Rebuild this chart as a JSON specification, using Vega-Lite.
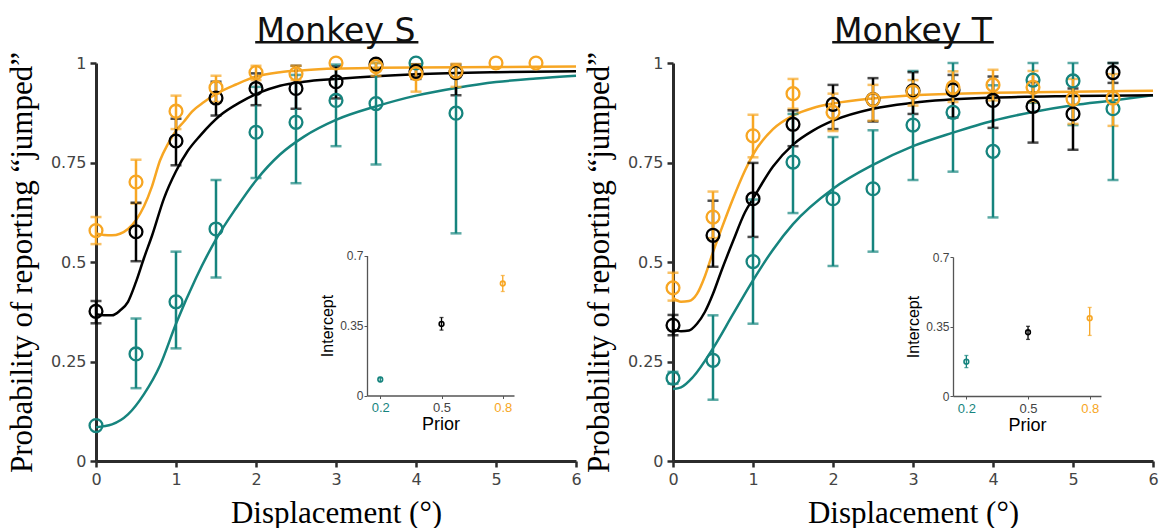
{
  "$schema": "https://vega.github.io/schema/vega-lite/v6.json",
  "background": "white",
  "padding": {"left": 6, "top": 16, "right": 4, "bottom": 0},
  "spacing": 1,
  "config": {"view": {"stroke": null}, "axis": {"grid": false}},
  "datasets": {
    "ptsS": [
      {"prior": "0.2", "x": 0, "y": 0.089, "lo": null, "hi": null},
      {"prior": "0.2", "x": 0.5, "y": 0.269, "lo": 0.183, "hi": 0.358},
      {"prior": "0.2", "x": 1, "y": 0.40, "lo": 0.283, "hi": 0.526},
      {"prior": "0.2", "x": 1.5, "y": 0.583, "lo": 0.461, "hi": 0.706},
      {"prior": "0.2", "x": 2, "y": 0.826, "lo": 0.711, "hi": 0.94},
      {"prior": "0.2", "x": 2.5, "y": 0.851, "lo": 0.698, "hi": 0.97},
      {"prior": "0.2", "x": 3, "y": 0.906, "lo": 0.791, "hi": 0.996},
      {"prior": "0.2", "x": 3.5, "y": 0.898, "lo": 0.745, "hi": 1.0},
      {"prior": "0.2", "x": 4, "y": 1.0, "lo": null, "hi": null},
      {"prior": "0.2", "x": 4.5, "y": 0.874, "lo": 0.572, "hi": 0.99},
      {"prior": "0.5", "x": 0, "y": 0.376, "lo": 0.346, "hi": 0.402},
      {"prior": "0.5", "x": 0.5, "y": 0.576, "lo": 0.502, "hi": 0.649},
      {"prior": "0.5", "x": 1, "y": 0.804, "lo": 0.743, "hi": 0.86},
      {"prior": "0.5", "x": 1.5, "y": 0.912, "lo": 0.868, "hi": 0.953},
      {"prior": "0.5", "x": 2, "y": 0.936, "lo": 0.894, "hi": 0.974},
      {"prior": "0.5", "x": 2.5, "y": 0.936, "lo": 0.885, "hi": 0.993},
      {"prior": "0.5", "x": 3, "y": 0.953, "lo": 0.911, "hi": 0.991},
      {"prior": "0.5", "x": 3.5, "y": 0.997, "lo": null, "hi": null},
      {"prior": "0.5", "x": 4, "y": 0.979, "lo": 0.96, "hi": 0.997},
      {"prior": "0.5", "x": 4.5, "y": 0.976, "lo": 0.919, "hi": 0.996},
      {"prior": "0.8", "x": 0, "y": 0.579, "lo": 0.545, "hi": 0.613},
      {"prior": "0.8", "x": 0.5, "y": 0.701, "lo": 0.647, "hi": 0.757},
      {"prior": "0.8", "x": 1, "y": 0.879, "lo": 0.834, "hi": 0.918},
      {"prior": "0.8", "x": 1.5, "y": 0.938, "lo": 0.902, "hi": 0.968},
      {"prior": "0.8", "x": 2, "y": 0.976, "lo": 0.957, "hi": 0.993},
      {"prior": "0.8", "x": 2.5, "y": 0.973, "lo": 0.957, "hi": 0.993},
      {"prior": "0.8", "x": 3, "y": 1.0, "lo": null, "hi": null},
      {"prior": "0.8", "x": 3.5, "y": 0.991, "lo": 0.968, "hi": 1.0},
      {"prior": "0.8", "x": 4, "y": 0.973, "lo": 0.928, "hi": 0.996},
      {"prior": "0.8", "x": 4.5, "y": 0.979, "lo": 0.94, "hi": 0.998},
      {"prior": "0.8", "x": 5, "y": 1.0, "lo": null, "hi": null},
      {"prior": "0.8", "x": 5.5, "y": 1.0, "lo": null, "hi": null}
    ],
    "curveS": [
      {"prior": "0.2", "x": 0, "y": 0.085}, {"prior": "0.2", "x": 0.2, "y": 0.092}, {"prior": "0.2", "x": 0.4, "y": 0.117},
      {"prior": "0.2", "x": 0.6, "y": 0.168}, {"prior": "0.2", "x": 0.8, "y": 0.24}, {"prior": "0.2", "x": 1, "y": 0.345},
      {"prior": "0.2", "x": 1.25, "y": 0.46}, {"prior": "0.2", "x": 1.5, "y": 0.557}, {"prior": "0.2", "x": 1.75, "y": 0.635},
      {"prior": "0.2", "x": 2, "y": 0.705}, {"prior": "0.2", "x": 2.3, "y": 0.77}, {"prior": "0.2", "x": 2.6, "y": 0.815},
      {"prior": "0.2", "x": 3, "y": 0.857}, {"prior": "0.2", "x": 3.5, "y": 0.891}, {"prior": "0.2", "x": 4, "y": 0.918},
      {"prior": "0.2", "x": 4.5, "y": 0.937}, {"prior": "0.2", "x": 5, "y": 0.952}, {"prior": "0.2", "x": 5.5, "y": 0.961},
      {"prior": "0.2", "x": 6, "y": 0.968},
      {"prior": "0.5", "x": 0, "y": 0.369}, {"prior": "0.5", "x": 0.1, "y": 0.366}, {"prior": "0.5", "x": 0.2, "y": 0.366},
      {"prior": "0.5", "x": 0.3, "y": 0.378}, {"prior": "0.5", "x": 0.4, "y": 0.40}, {"prior": "0.5", "x": 0.5, "y": 0.45},
      {"prior": "0.5", "x": 0.6, "y": 0.51}, {"prior": "0.5", "x": 0.7, "y": 0.566}, {"prior": "0.5", "x": 0.85, "y": 0.66},
      {"prior": "0.5", "x": 1, "y": 0.728}, {"prior": "0.5", "x": 1.15, "y": 0.78}, {"prior": "0.5", "x": 1.3, "y": 0.817},
      {"prior": "0.5", "x": 1.55, "y": 0.868}, {"prior": "0.5", "x": 1.8, "y": 0.901}, {"prior": "0.5", "x": 2.05, "y": 0.926},
      {"prior": "0.5", "x": 2.3, "y": 0.943}, {"prior": "0.5", "x": 2.6, "y": 0.953}, {"prior": "0.5", "x": 3, "y": 0.96},
      {"prior": "0.5", "x": 3.5, "y": 0.967}, {"prior": "0.5", "x": 4, "y": 0.972}, {"prior": "0.5", "x": 5, "y": 0.977},
      {"prior": "0.5", "x": 6, "y": 0.979},
      {"prior": "0.8", "x": 0, "y": 0.572}, {"prior": "0.8", "x": 0.1, "y": 0.568}, {"prior": "0.8", "x": 0.2, "y": 0.567},
      {"prior": "0.8", "x": 0.3, "y": 0.571}, {"prior": "0.8", "x": 0.4, "y": 0.583}, {"prior": "0.8", "x": 0.5, "y": 0.605},
      {"prior": "0.8", "x": 0.6, "y": 0.64}, {"prior": "0.8", "x": 0.7, "y": 0.69}, {"prior": "0.8", "x": 0.8, "y": 0.755},
      {"prior": "0.8", "x": 0.9, "y": 0.797}, {"prior": "0.8", "x": 1, "y": 0.83}, {"prior": "0.8", "x": 1.1, "y": 0.853},
      {"prior": "0.8", "x": 1.2, "y": 0.878}, {"prior": "0.8", "x": 1.35, "y": 0.902}, {"prior": "0.8", "x": 1.5, "y": 0.922},
      {"prior": "0.8", "x": 1.75, "y": 0.946}, {"prior": "0.8", "x": 2, "y": 0.966}, {"prior": "0.8", "x": 2.3, "y": 0.977},
      {"prior": "0.8", "x": 2.6, "y": 0.982}, {"prior": "0.8", "x": 3, "y": 0.986}, {"prior": "0.8", "x": 3.5, "y": 0.988},
      {"prior": "0.8", "x": 4, "y": 0.989}, {"prior": "0.8", "x": 5, "y": 0.99}, {"prior": "0.8", "x": 6, "y": 0.991}
    ],
    "insetS": [
      {"prior": "0.2", "p": 0.2, "y": 0.08, "lo": 0.07, "hi": 0.09},
      {"prior": "0.5", "p": 0.5, "y": 0.358, "lo": 0.327, "hi": 0.39},
      {"prior": "0.8", "p": 0.8, "y": 0.56, "lo": 0.52, "hi": 0.6}
    ],
    "ptsT": [
      {"prior": "0.2", "x": 0, "y": 0.208, "lo": 0.194, "hi": 0.224},
      {"prior": "0.2", "x": 0.5, "y": 0.253, "lo": 0.154, "hi": 0.366},
      {"prior": "0.2", "x": 1, "y": 0.501, "lo": 0.345, "hi": 0.657},
      {"prior": "0.2", "x": 1.5, "y": 0.751, "lo": 0.623, "hi": 0.872},
      {"prior": "0.2", "x": 2, "y": 0.659, "lo": 0.49, "hi": 0.814},
      {"prior": "0.2", "x": 2.5, "y": 0.684, "lo": 0.526, "hi": 0.831},
      {"prior": "0.2", "x": 3, "y": 0.844, "lo": 0.706, "hi": 0.98},
      {"prior": "0.2", "x": 3.5, "y": 0.876, "lo": 0.727, "hi": 1.0},
      {"prior": "0.2", "x": 4, "y": 0.778, "lo": 0.612, "hi": 0.944},
      {"prior": "0.2", "x": 4.5, "y": 0.957, "lo": 0.9, "hi": 1.0},
      {"prior": "0.2", "x": 5, "y": 0.955, "lo": 0.844, "hi": 1.0},
      {"prior": "0.2", "x": 5.5, "y": 0.885, "lo": 0.706, "hi": 1.0},
      {"prior": "0.5", "x": 0, "y": 0.341, "lo": 0.316, "hi": 0.367},
      {"prior": "0.5", "x": 0.5, "y": 0.567, "lo": 0.488, "hi": 0.654},
      {"prior": "0.5", "x": 1, "y": 0.659, "lo": 0.563, "hi": 0.749},
      {"prior": "0.5", "x": 1.5, "y": 0.846, "lo": 0.791, "hi": 0.881},
      {"prior": "0.5", "x": 2, "y": 0.896, "lo": 0.834, "hi": 0.945},
      {"prior": "0.5", "x": 2.5, "y": 0.908, "lo": 0.853, "hi": 0.962},
      {"prior": "0.5", "x": 3, "y": 0.93, "lo": 0.872, "hi": 0.977},
      {"prior": "0.5", "x": 3.5, "y": 0.932, "lo": 0.863, "hi": 0.97},
      {"prior": "0.5", "x": 4, "y": 0.906, "lo": 0.837, "hi": 0.966},
      {"prior": "0.5", "x": 4.5, "y": 0.891, "lo": 0.8, "hi": 0.952},
      {"prior": "0.5", "x": 5, "y": 0.872, "lo": 0.782, "hi": 0.936},
      {"prior": "0.5", "x": 5.5, "y": 0.976, "lo": 0.95, "hi": 1.0},
      {"prior": "0.8", "x": 0, "y": 0.435, "lo": 0.403, "hi": 0.473},
      {"prior": "0.8", "x": 0.5, "y": 0.613, "lo": 0.56, "hi": 0.677},
      {"prior": "0.8", "x": 1, "y": 0.817, "lo": 0.763, "hi": 0.87},
      {"prior": "0.8", "x": 1.5, "y": 0.923, "lo": 0.885, "hi": 0.96},
      {"prior": "0.8", "x": 2, "y": 0.876, "lo": 0.829, "hi": 0.923},
      {"prior": "0.8", "x": 2.5, "y": 0.908, "lo": 0.855, "hi": 0.945},
      {"prior": "0.8", "x": 3, "y": 0.927, "lo": 0.893, "hi": 0.957},
      {"prior": "0.8", "x": 3.5, "y": 0.939, "lo": 0.902, "hi": 0.979},
      {"prior": "0.8", "x": 4, "y": 0.945, "lo": 0.906, "hi": 0.983},
      {"prior": "0.8", "x": 4.5, "y": 0.939, "lo": 0.902, "hi": 0.98},
      {"prior": "0.8", "x": 5, "y": 0.91, "lo": 0.847, "hi": 0.96},
      {"prior": "0.8", "x": 5.5, "y": 0.912, "lo": 0.842, "hi": 0.972}
    ],
    "curveT": [
      {"prior": "0.2", "x": 0, "y": 0.181}, {"prior": "0.2", "x": 0.1, "y": 0.185}, {"prior": "0.2", "x": 0.25, "y": 0.211},
      {"prior": "0.2", "x": 0.5, "y": 0.283}, {"prior": "0.2", "x": 0.75, "y": 0.369}, {"prior": "0.2", "x": 1, "y": 0.454},
      {"prior": "0.2", "x": 1.25, "y": 0.531}, {"prior": "0.2", "x": 1.5, "y": 0.595}, {"prior": "0.2", "x": 2, "y": 0.684},
      {"prior": "0.2", "x": 2.5, "y": 0.744}, {"prior": "0.2", "x": 3, "y": 0.791}, {"prior": "0.2", "x": 3.5, "y": 0.825},
      {"prior": "0.2", "x": 4, "y": 0.855}, {"prior": "0.2", "x": 4.5, "y": 0.877}, {"prior": "0.2", "x": 5, "y": 0.894},
      {"prior": "0.2", "x": 5.5, "y": 0.906}, {"prior": "0.2", "x": 6, "y": 0.919},
      {"prior": "0.5", "x": 0, "y": 0.33}, {"prior": "0.5", "x": 0.1, "y": 0.326}, {"prior": "0.5", "x": 0.2, "y": 0.328},
      {"prior": "0.5", "x": 0.3, "y": 0.345}, {"prior": "0.5", "x": 0.4, "y": 0.375}, {"prior": "0.5", "x": 0.5, "y": 0.42},
      {"prior": "0.5", "x": 0.6, "y": 0.475}, {"prior": "0.5", "x": 0.75, "y": 0.552}, {"prior": "0.5", "x": 0.9, "y": 0.625},
      {"prior": "0.5", "x": 1, "y": 0.659}, {"prior": "0.5", "x": 1.25, "y": 0.74}, {"prior": "0.5", "x": 1.5, "y": 0.795},
      {"prior": "0.5", "x": 1.75, "y": 0.83}, {"prior": "0.5", "x": 2, "y": 0.855}, {"prior": "0.5", "x": 2.5, "y": 0.885},
      {"prior": "0.5", "x": 3, "y": 0.9}, {"prior": "0.5", "x": 4, "y": 0.913}, {"prior": "0.5", "x": 5, "y": 0.917},
      {"prior": "0.5", "x": 6, "y": 0.919},
      {"prior": "0.8", "x": 0, "y": 0.41}, {"prior": "0.8", "x": 0.1, "y": 0.40}, {"prior": "0.8", "x": 0.2, "y": 0.402},
      {"prior": "0.8", "x": 0.3, "y": 0.42}, {"prior": "0.8", "x": 0.4, "y": 0.465}, {"prior": "0.8", "x": 0.5, "y": 0.525},
      {"prior": "0.8", "x": 0.6, "y": 0.58}, {"prior": "0.8", "x": 0.75, "y": 0.659}, {"prior": "0.8", "x": 0.9, "y": 0.73},
      {"prior": "0.8", "x": 1, "y": 0.77}, {"prior": "0.8", "x": 1.25, "y": 0.834}, {"prior": "0.8", "x": 1.5, "y": 0.868},
      {"prior": "0.8", "x": 1.75, "y": 0.887}, {"prior": "0.8", "x": 2, "y": 0.898}, {"prior": "0.8", "x": 2.5, "y": 0.911},
      {"prior": "0.8", "x": 3, "y": 0.919}, {"prior": "0.8", "x": 4, "y": 0.925}, {"prior": "0.8", "x": 5, "y": 0.928},
      {"prior": "0.8", "x": 6, "y": 0.93}
    ],
    "insetT": [
      {"prior": "0.2", "p": 0.2, "y": 0.173, "lo": 0.143, "hi": 0.204},
      {"prior": "0.5", "p": 0.5, "y": 0.321, "lo": 0.285, "hi": 0.351},
      {"prior": "0.8", "p": 0.8, "y": 0.392, "lo": 0.305, "hi": 0.446}
    ]
  },
  "hconcat": [
    {
      "title": {"text": "Monkey S", "font": "DejaVu Sans", "fontSize": 33, "fontWeight": "normal", "color": "#111", "frame": "group", "anchor": "middle", "offset": -8},
      "width": 480,
      "height": 398,
      "resolve": {"scale": {"x": "independent", "y": "independent"}},
      "layer": [
        {
          "layer": [
            {
              "data": {"name": "curveS"},
              "mark": {"type": "line", "strokeWidth": 2.5, "interpolate": "monotone"},
              "encoding": {
                "x": {"field": "x", "type": "quantitative", "scale": {"domain": [0, 6], "nice": false}, "axis": {"values": [0, 1, 2, 3, 4, 5, 6], "labelExpr": "toString(datum.value)", "labelFlush": false, "title": "Displacement (°)", "domainColor": "#2b2b2b", "domainWidth": 3, "tickColor": "#2b2b2b", "tickWidth": 2.5, "tickSize": 6, "labelFont": "DejaVu Sans", "labelFontSize": 16, "labelColor": "#444", "labelPadding": 4, "titleFont": "Liberation Serif", "titleFontSize": 31, "titleFontWeight": "normal", "titleColor": "#000", "titleBaseline": "alphabetic", "titleY": 61}},
                "y": {"field": "y", "type": "quantitative", "scale": {"domain": [0, 1], "nice": false, "zero": false}, "axis": {"values": [0, 0.25, 0.5, 0.75, 1], "labelExpr": "toString(datum.value)", "labelFlush": false, "title": "Probability of reporting “jumped”", "domainColor": "#2b2b2b", "domainWidth": 3, "tickColor": "#2b2b2b", "tickWidth": 2.5, "tickSize": 6, "labelFont": "DejaVu Sans", "labelFontSize": 16, "labelColor": "#444", "labelPadding": 4, "titleFont": "Liberation Serif", "titleFontSize": 31, "titleFontWeight": "normal", "titleColor": "#000", "titleBaseline": "alphabetic", "titleX": -64.5}},
                "color": {"field": "prior", "type": "nominal", "scale": {"domain": ["0.2", "0.5", "0.8"], "range": ["#16847E", "#000000", "#F7A623"]}, "legend": null}
              }
            },
            {
              "data": {"name": "ptsS"},
              "transform": [{"filter": "datum.lo != null"}],
              "mark": {"type": "errorbar", "thickness": 2.5, "ticks": {"size": 11, "thickness": 2.5}},
              "encoding": {
                "x": {"field": "x", "type": "quantitative", "scale": {"domain": [0, 6], "nice": false}, "axis": {"values": [0, 1, 2, 3, 4, 5, 6], "labelExpr": "toString(datum.value)", "labelFlush": false, "title": "Displacement (°)", "domainColor": "#2b2b2b", "domainWidth": 3, "tickColor": "#2b2b2b", "tickWidth": 2.5, "tickSize": 6, "labelFont": "DejaVu Sans", "labelFontSize": 16, "labelColor": "#444", "labelPadding": 4, "titleFont": "Liberation Serif", "titleFontSize": 31, "titleFontWeight": "normal", "titleColor": "#000", "titleBaseline": "alphabetic", "titleY": 61}},
                "y": {"field": "lo", "type": "quantitative", "scale": {"domain": [0, 1], "nice": false, "zero": false}, "axis": {"values": [0, 0.25, 0.5, 0.75, 1], "labelExpr": "toString(datum.value)", "labelFlush": false, "title": "Probability of reporting “jumped”", "domainColor": "#2b2b2b", "domainWidth": 3, "tickColor": "#2b2b2b", "tickWidth": 2.5, "tickSize": 6, "labelFont": "DejaVu Sans", "labelFontSize": 16, "labelColor": "#444", "labelPadding": 4, "titleFont": "Liberation Serif", "titleFontSize": 31, "titleFontWeight": "normal", "titleColor": "#000", "titleBaseline": "alphabetic", "titleX": -64.5}},
                "y2": {"field": "hi"},
                "color": {"field": "prior", "type": "nominal", "legend": null}
              }
            },
            {
              "data": {"name": "ptsS"},
              "mark": {"type": "point", "filled": false, "size": 165, "strokeWidth": 2.3, "opacity": 1},
              "encoding": {
                "x": {"field": "x", "type": "quantitative", "scale": {"domain": [0, 6], "nice": false}, "axis": {"values": [0, 1, 2, 3, 4, 5, 6], "labelExpr": "toString(datum.value)", "labelFlush": false, "title": "Displacement (°)", "domainColor": "#2b2b2b", "domainWidth": 3, "tickColor": "#2b2b2b", "tickWidth": 2.5, "tickSize": 6, "labelFont": "DejaVu Sans", "labelFontSize": 16, "labelColor": "#444", "labelPadding": 4, "titleFont": "Liberation Serif", "titleFontSize": 31, "titleFontWeight": "normal", "titleColor": "#000", "titleBaseline": "alphabetic", "titleY": 61}},
                "y": {"field": "y", "type": "quantitative", "scale": {"domain": [0, 1], "nice": false, "zero": false}, "axis": {"values": [0, 0.25, 0.5, 0.75, 1], "labelExpr": "toString(datum.value)", "labelFlush": false, "title": "Probability of reporting “jumped”", "domainColor": "#2b2b2b", "domainWidth": 3, "tickColor": "#2b2b2b", "tickWidth": 2.5, "tickSize": 6, "labelFont": "DejaVu Sans", "labelFontSize": 16, "labelColor": "#444", "labelPadding": 4, "titleFont": "Liberation Serif", "titleFontSize": 31, "titleFontWeight": "normal", "titleColor": "#000", "titleBaseline": "alphabetic", "titleX": -64.5}},
                "color": {"field": "prior", "type": "nominal", "legend": null}
              }
            },
            {
              "data": {"values": [{}]},
              "mark": {"type": "rule", "clip": false, "strokeWidth": 2.5, "color": "#111"},
              "encoding": {"x": {"datum": 1.99}, "x2": {"datum": 4.03}, "y": {"datum": 1.052}}
            }
          ]
        },
        {
          "data": {"name": "insetS"},
          "layer": [
            {
              "mark": {"type": "errorbar", "thickness": 1.3, "ticks": {"size": 4, "thickness": 1.3}},
              "encoding": {
                "x": {"field": "p", "type": "quantitative", "scale": {"domain": [0.135, 0.855], "range": [271, 418], "nice": false, "zero": false}, "axis": {"orient": "bottom", "offset": -65.5, "values": [0.2, 0.5, 0.8], "labelExpr": "toString(datum.value)", "labelFlush": false, "title": "Prior", "domainColor": "#555", "domainWidth": 1.3, "tickColor": "#555", "tickWidth": 1, "tickSize": 3, "labelFont": "Liberation Sans", "labelFontSize": 13, "labelPadding": 3, "labelColor": {"condition": [{"test": "datum.value < 0.3", "value": "#16847E"}, {"test": "datum.value > 0.7", "value": "#F7A623"}], "value": "#444"}, "titleFont": "Liberation Sans", "titleFontSize": 18, "titleFontWeight": "normal", "titleColor": "#000", "titlePadding": 1}},
                "y": {"field": "lo", "type": "quantitative", "scale": {"domain": [0, 0.7], "range": [332.5, 192.5], "nice": false}, "axis": {"orient": "left", "offset": -271, "values": [0, 0.35, 0.7], "labelExpr": "toString(datum.value)", "labelFlush": false, "title": "Intercept", "domainColor": "#555", "domainWidth": 1.3, "tickColor": "#555", "tickWidth": 1, "tickSize": 3, "labelFont": "Liberation Sans", "labelFontSize": 12, "labelColor": "#444", "labelPadding": 1, "titleFont": "Liberation Sans", "titleFontSize": 16, "titleFontWeight": "normal", "titleColor": "#000", "titlePadding": 4}},
                "y2": {"field": "hi"},
                "color": {"field": "prior", "type": "nominal", "legend": null}
              }
            },
            {
              "mark": {"type": "point", "filled": false, "size": 22, "strokeWidth": 1.6, "opacity": 1},
              "encoding": {
                "x": {"field": "p", "type": "quantitative"},
                "y": {"field": "y", "type": "quantitative"},
                "color": {"field": "prior", "type": "nominal", "legend": null}
              }
            }
          ]
        }
      ]
    },
    {
      "title": {"text": "Monkey T", "font": "DejaVu Sans", "fontSize": 33, "fontWeight": "normal", "color": "#111", "frame": "group", "anchor": "middle", "offset": -8},
      "width": 480,
      "height": 398,
      "resolve": {"scale": {"x": "independent", "y": "independent"}},
      "layer": [
        {
          "layer": [
            {
              "data": {"name": "curveT"},
              "mark": {"type": "line", "strokeWidth": 2.5, "interpolate": "monotone"},
              "encoding": {
                "x": {"field": "x", "type": "quantitative", "scale": {"domain": [0, 6], "nice": false}, "axis": {"values": [0, 1, 2, 3, 4, 5, 6], "labelExpr": "toString(datum.value)", "labelFlush": false, "title": "Displacement (°)", "domainColor": "#2b2b2b", "domainWidth": 3, "tickColor": "#2b2b2b", "tickWidth": 2.5, "tickSize": 6, "labelFont": "DejaVu Sans", "labelFontSize": 16, "labelColor": "#444", "labelPadding": 4, "titleFont": "Liberation Serif", "titleFontSize": 31, "titleFontWeight": "normal", "titleColor": "#000", "titleBaseline": "alphabetic", "titleY": 61}},
                "y": {"field": "y", "type": "quantitative", "scale": {"domain": [0, 1], "nice": false, "zero": false}, "axis": {"values": [0, 0.25, 0.5, 0.75, 1], "labelExpr": "toString(datum.value)", "labelFlush": false, "title": "Probability of reporting “jumped”", "domainColor": "#2b2b2b", "domainWidth": 3, "tickColor": "#2b2b2b", "tickWidth": 2.5, "tickSize": 6, "labelFont": "DejaVu Sans", "labelFontSize": 16, "labelColor": "#444", "labelPadding": 4, "titleFont": "Liberation Serif", "titleFontSize": 31, "titleFontWeight": "normal", "titleColor": "#000", "titleBaseline": "alphabetic", "titleX": -64.5}},
                "color": {"field": "prior", "type": "nominal", "legend": null}
              }
            },
            {
              "data": {"name": "ptsT"},
              "mark": {"type": "errorbar", "thickness": 2.5, "ticks": {"size": 11, "thickness": 2.5}},
              "encoding": {
                "x": {"field": "x", "type": "quantitative", "scale": {"domain": [0, 6], "nice": false}, "axis": {"values": [0, 1, 2, 3, 4, 5, 6], "labelExpr": "toString(datum.value)", "labelFlush": false, "title": "Displacement (°)", "domainColor": "#2b2b2b", "domainWidth": 3, "tickColor": "#2b2b2b", "tickWidth": 2.5, "tickSize": 6, "labelFont": "DejaVu Sans", "labelFontSize": 16, "labelColor": "#444", "labelPadding": 4, "titleFont": "Liberation Serif", "titleFontSize": 31, "titleFontWeight": "normal", "titleColor": "#000", "titleBaseline": "alphabetic", "titleY": 61}},
                "y": {"field": "lo", "type": "quantitative", "scale": {"domain": [0, 1], "nice": false, "zero": false}, "axis": {"values": [0, 0.25, 0.5, 0.75, 1], "labelExpr": "toString(datum.value)", "labelFlush": false, "title": "Probability of reporting “jumped”", "domainColor": "#2b2b2b", "domainWidth": 3, "tickColor": "#2b2b2b", "tickWidth": 2.5, "tickSize": 6, "labelFont": "DejaVu Sans", "labelFontSize": 16, "labelColor": "#444", "labelPadding": 4, "titleFont": "Liberation Serif", "titleFontSize": 31, "titleFontWeight": "normal", "titleColor": "#000", "titleBaseline": "alphabetic", "titleX": -64.5}},
                "y2": {"field": "hi"},
                "color": {"field": "prior", "type": "nominal", "legend": null}
              }
            },
            {
              "data": {"name": "ptsT"},
              "mark": {"type": "point", "filled": false, "size": 165, "strokeWidth": 2.3, "opacity": 1},
              "encoding": {
                "x": {"field": "x", "type": "quantitative", "scale": {"domain": [0, 6], "nice": false}, "axis": {"values": [0, 1, 2, 3, 4, 5, 6], "labelExpr": "toString(datum.value)", "labelFlush": false, "title": "Displacement (°)", "domainColor": "#2b2b2b", "domainWidth": 3, "tickColor": "#2b2b2b", "tickWidth": 2.5, "tickSize": 6, "labelFont": "DejaVu Sans", "labelFontSize": 16, "labelColor": "#444", "labelPadding": 4, "titleFont": "Liberation Serif", "titleFontSize": 31, "titleFontWeight": "normal", "titleColor": "#000", "titleBaseline": "alphabetic", "titleY": 61}},
                "y": {"field": "y", "type": "quantitative", "scale": {"domain": [0, 1], "nice": false, "zero": false}, "axis": {"values": [0, 0.25, 0.5, 0.75, 1], "labelExpr": "toString(datum.value)", "labelFlush": false, "title": "Probability of reporting “jumped”", "domainColor": "#2b2b2b", "domainWidth": 3, "tickColor": "#2b2b2b", "tickWidth": 2.5, "tickSize": 6, "labelFont": "DejaVu Sans", "labelFontSize": 16, "labelColor": "#444", "labelPadding": 4, "titleFont": "Liberation Serif", "titleFontSize": 31, "titleFontWeight": "normal", "titleColor": "#000", "titleBaseline": "alphabetic", "titleX": -64.5}},
                "color": {"field": "prior", "type": "nominal", "legend": null}
              }
            },
            {
              "data": {"values": [{}]},
              "mark": {"type": "rule", "clip": false, "strokeWidth": 2.5, "color": "#111"},
              "encoding": {"x": {"datum": 1.99}, "x2": {"datum": 4.01}, "y": {"datum": 1.052}}
            }
          ]
        },
        {
          "data": {"name": "insetT"},
          "layer": [
            {
              "mark": {"type": "errorbar", "thickness": 1.3, "ticks": {"size": 4, "thickness": 1.3}},
              "encoding": {
                "x": {"field": "p", "type": "quantitative", "scale": {"domain": [0.135, 0.855], "range": [280, 428], "nice": false, "zero": false}, "axis": {"orient": "bottom", "offset": -65, "values": [0.2, 0.5, 0.8], "labelExpr": "toString(datum.value)", "labelFlush": false, "title": "Prior", "domainColor": "#555", "domainWidth": 1.3, "tickColor": "#555", "tickWidth": 1, "tickSize": 3, "labelFont": "Liberation Sans", "labelFontSize": 13, "labelPadding": 3, "labelColor": {"condition": [{"test": "datum.value < 0.3", "value": "#16847E"}, {"test": "datum.value > 0.7", "value": "#F7A623"}], "value": "#444"}, "titleFont": "Liberation Sans", "titleFontSize": 18, "titleFontWeight": "normal", "titleColor": "#000", "titlePadding": 1}},
                "y": {"field": "lo", "type": "quantitative", "scale": {"domain": [0, 0.7], "range": [333, 194], "nice": false}, "axis": {"orient": "left", "offset": -280, "values": [0, 0.35, 0.7], "labelExpr": "toString(datum.value)", "labelFlush": false, "title": "Intercept", "domainColor": "#555", "domainWidth": 1.3, "tickColor": "#555", "tickWidth": 1, "tickSize": 3, "labelFont": "Liberation Sans", "labelFontSize": 12, "labelColor": "#444", "labelPadding": 1, "titleFont": "Liberation Sans", "titleFontSize": 16, "titleFontWeight": "normal", "titleColor": "#000", "titlePadding": 4}},
                "y2": {"field": "hi"},
                "color": {"field": "prior", "type": "nominal", "legend": null}
              }
            },
            {
              "mark": {"type": "point", "filled": false, "size": 22, "strokeWidth": 1.6, "opacity": 1},
              "encoding": {
                "x": {"field": "p", "type": "quantitative"},
                "y": {"field": "y", "type": "quantitative"},
                "color": {"field": "prior", "type": "nominal", "legend": null}
              }
            }
          ]
        }
      ]
    }
  ]
}
